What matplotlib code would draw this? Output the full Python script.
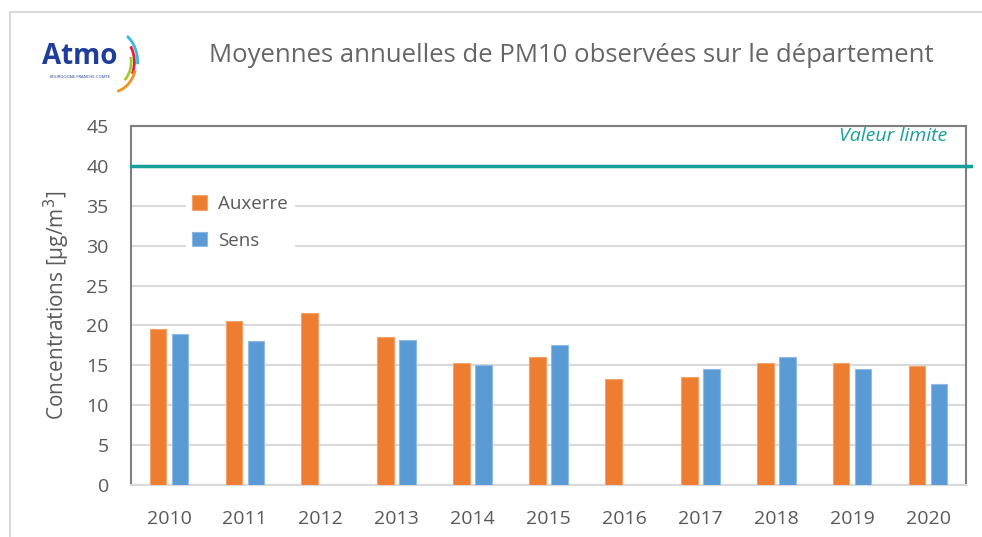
import matplotlib
matplotlib.use("Agg")
from matplotlib import pyplot as plt
from matplotlib.patches import Arc, Rectangle
import numpy as np

annees = ['2010', '2011', '2012', '2013', '2014', '2015', '2016', '2017', '2018', '2019', '2020']
auxerre = [19.5, 20.5, 21.5, 18.6, 15.3, 16.0, 13.3, 13.6, 15.25, 15.25, 14.9]
sens = [18.9, 18.0, np.nan, 18.2, 15.0, 17.5, np.nan, 14.6, 16.0, 14.6, 12.7]
valeur_limite = 40

orange = '#ed7d31'
bleu = '#5b9bd5'
teal = '#17a09a'
gris_txt = '#595959'

plt.rcParams['font.family'] = ['Open Sans', 'DejaVu Sans']

fig = plt.figure(figsize=(9.82, 5.37), dpi=100)

# cadre extérieur
fig.patches.append(Rectangle((10 / 982, -0.01), 1.0, 1 - 12 / 537 + 0.01, transform=fig.transFigure,
                             fill=False, edgecolor='#d9d9d9', linewidth=1.5))

ax = fig.add_axes([131 / 982, 1 - 485 / 537, 835 / 982, 359 / 537])

x = np.arange(len(annees))
w = 0.22
d = 0.145
ax.bar(x - d, auxerre, w, color=orange, edgecolor='#f5a36a', linewidth=0.8, label='Auxerre', zorder=3)
ax.bar(x + d, sens, w, color=bleu, edgecolor='#8fbbe6', linewidth=0.8, label='Sens', zorder=3)

ax.axhline(valeur_limite, color=teal, linewidth=2.5, zorder=6, clip_on=False)
ax.plot([1.0, 1.006], [valeur_limite, valeur_limite], transform=ax.get_yaxis_transform(),
        color=teal, linewidth=2.5, clip_on=False, zorder=6)
ax.text(10.25, 43.8, 'Valeur limite', color=teal, fontsize=14, style='italic',
        ha='right', va='center', zorder=7)

ax.set_xlim(-0.5, len(annees) - 0.5)
ax.set_ylim(0, 45)
ax.set_yticks(range(0, 46, 5))
ax.set_xticks(x)
ax.set_xticklabels(annees)
ax.yaxis.grid(True, color='#d9d9d9', linewidth=1.5, zorder=0)
ax.set_axisbelow(True)
ax.tick_params(length=0, labelsize=14, colors=gris_txt)
ax.tick_params(axis='y', pad=16)
ax.tick_params(axis='x', pad=18)
for s in ['left', 'top', 'right']:
    ax.spines[s].set_color('#7f7f7f')
    ax.spines[s].set_linewidth(1.5)
ax.spines['bottom'].set_color('#d9d9d9')
ax.spines['bottom'].set_linewidth(1.5)

ax.set_ylabel('Concentrations [µg/m$^3$]', fontsize=15, color=gris_txt, labelpad=10)

leg = ax.legend(loc='upper left', bbox_to_anchor=(0.055, 0.85), frameon=True, fontsize=13.5,
                handlelength=0.8, handleheight=0.8, handletextpad=0.6, labelspacing=1.0,
                borderpad=0.3)
leg.set_zorder(5)
leg.get_frame().set_facecolor('white')
leg.get_frame().set_edgecolor('white')
leg.get_frame().set_alpha(1)
for t in leg.get_texts():
    t.set_color(gris_txt)

fig.text(571 / 982, 1 - 55 / 537, 'Moyennes annuelles de PM10 observées sur le département',
         fontsize=18.5, color='#666666', ha='center', va='center')

# logo Atmo
fig.text(80 / 982, 1 - 56 / 537, 'Atmo', fontsize=20, color='#1f3d99', weight='bold',
         ha='center', va='center')
fig.text(80 / 982, 1 - 77 / 537, 'BOURGOGNE-FRANCHE-COMTE', fontsize=3, color='#1f3d99',
         ha='center', va='center')
logo = fig.add_axes([0, 0, 1, 1], facecolor='none')
logo.set_xlim(0, 982)
logo.set_ylim(537, 0)
logo.axis('off')
for r, c, t1, t2 in [(32, '#3cb6e3', -60, 5), (28, '#e2203c', -40, 30), (24, '#a9c52f', -15, 55),
                     (30, '#f29222', 20, 80)]:
    logo.add_patch(Arc((112, 62), 2 * r * 0.8, 2 * r, theta1=t1, theta2=t2, color=c, linewidth=2))

fig.savefig('out.png', dpi=100)
